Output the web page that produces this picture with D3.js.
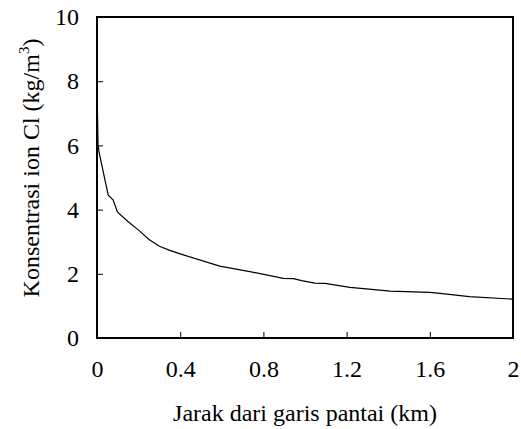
<!DOCTYPE html>
<html>
<head>
<meta charset="utf-8">
<script src="https://cdn.jsdelivr.net/npm/d3@7"></script>
<style>
  body { margin: 0; background: #fff; }
  text { font-family: "Liberation Serif", "Times New Roman", serif; fill: #000; }
</style>
</head>
<body>
<svg id="chart" width="521" height="429"></svg>
<script>
"use strict";

// distance from the coast (km) and chloride concentration (kg/m3)
const jarak = [0, 0.005, 0.011, 0.054, 0.078, 0.098, 0.15, 0.2, 0.25, 0.30, 0.35, 0.40, 0.59, 0.735,
               0.896, 0.944, 0.984, 1.048, 1.096, 1.216, 1.41, 1.6, 1.65, 1.79, 2.0];
const konsentrasi = [7.9, 6.0, 5.75, 4.45, 4.3, 3.93, 3.62, 3.36, 3.07, 2.86, 2.73, 2.62, 2.24, 2.07,
                     1.86, 1.85, 1.79, 1.71, 1.70, 1.58, 1.46, 1.42, 1.39, 1.29, 1.21];
const xTicks = [0, 0.4, 0.8, 1.2, 1.6, 2];
const yTicks = [0, 2, 4, 6, 8, 10];

const svg = d3.select("#chart");
const margin = {top: 17, right: 8, bottom: 91, left: 97};
const width = 521 - margin.left - margin.right;
const height = 429 - margin.top - margin.bottom;

const x = d3.scaleLinear().domain([0, 2]).range([0, width]);
const y = d3.scaleLinear().domain([0, 10]).range([height, 0]);

const g = svg.append("g").attr("transform", `translate(${margin.left},${margin.top})`);

// inward ticks
g.append("g")
  .attr("transform", `translate(0,${height})`)
  .call(d3.axisBottom(x).tickValues(xTicks).tickSize(-6).tickPadding(22)
        .tickFormat(d => d === 0 || d === 2 ? String(d) : d3.format(".1f")(d)))
  .call(a => a.select(".domain").remove())
  .call(a => a.selectAll("line").attr("stroke", "#000"))
  .call(a => a.selectAll("text").style("font-size", "24px"));

g.append("g")
  .call(d3.axisLeft(y).tickValues(yTicks).tickSize(-6).tickPadding(18))
  .call(a => a.select(".domain").remove())
  .call(a => a.selectAll("line").attr("stroke", "#000"))
  .call(a => a.selectAll("text").style("font-size", "24px"));

// the curve
const line = d3.line().x((d, i) => x(jarak[i])).y(d => y(d));
g.append("path")
  .datum(konsentrasi)
  .attr("fill", "none")
  .attr("stroke", "#000")
  .attr("stroke-width", 1.2)
  .attr("d", line);

// frame
g.append("rect")
  .attr("width", width).attr("height", height)
  .attr("fill", "none").attr("stroke", "#000").attr("stroke-width", 2);

// axis titles
svg.append("text")
  .attr("x", 305).attr("y", 421)
  .attr("text-anchor", "middle").style("font-size", "24px")
  .text("Jarak dari garis pantai (km)");

const yt = svg.append("text")
  .attr("transform", "translate(39,168) rotate(-90)")
  .attr("text-anchor", "middle").style("font-size", "24px");
yt.append("tspan").text("Konsentrasi ion Cl (kg/m");
yt.append("tspan").attr("dy", -10).style("font-size", "15px").text("3");
yt.append("tspan").attr("dy", 10).text(")");
</script>
</body>
</html>
